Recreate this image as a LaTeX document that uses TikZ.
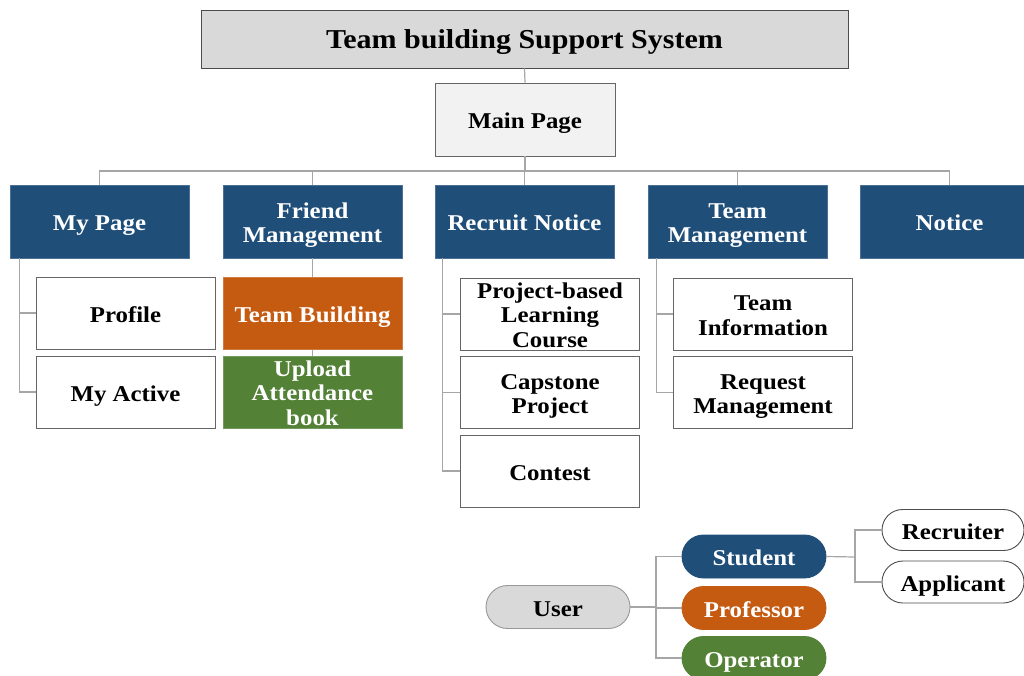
\documentclass[tikz,border=0pt]{standalone}
\usepackage{fontspec}
\setmainfont{Liberation Serif}[FakeStretch=1.1]
\definecolor{navy}{HTML}{1F4E79}
\definecolor{rust}{HTML}{C55A11}
\definecolor{leaf}{HTML}{538135}
\definecolor{lgray}{HTML}{D9D9D9}
\definecolor{vlgray}{HTML}{F2F2F2}
\definecolor{edge}{HTML}{7F7F7F}
\definecolor{wire}{HTML}{A6A6A6}
% fixed top and bottom of each text block, so lines sit like a word-processor line box
\newcommand{\topstrut}{\rule{0pt}{24pt}}
\newcommand{\botstrut}{\rule[-6pt]{0pt}{6pt}}
% three-line blocks need a lower top so they stay inside their boxes
\newcommand{\lowtopstrut}{\rule{0pt}{18pt}}
\tikzset{
  base/.style={draw=edge, line width=0.9pt, align=center, inner sep=0pt,
    font=\bfseries\fontsize{22.6}{24.5}\selectfont},
  titlebox/.style={base, fill=lgray, draw=black!70, minimum width=647pt, minimum height=58pt,
    font=\bfseries\fontsize{27.3}{30}\selectfont},
  mainbox/.style={base, fill=vlgray, draw=black!60, minimum width=180pt, minimum height=73pt},
  topbox/.style={base, fill=navy, draw=navy!80!white, text=white, minimum width=179pt, minimum height=73pt},
  subbox/.style={base, fill=white, draw=black!60, minimum width=179pt, minimum height=72pt},
  orangebox/.style={base, fill=rust, draw=rust!80!white, text=white, minimum width=179pt, minimum height=72pt},
  greenbox/.style={base, fill=leaf, draw=leaf!80!white, text=white, minimum width=179pt, minimum height=72pt},
  pill/.style={base, rounded corners=21.5pt, minimum width=144pt, minimum height=43pt},
  conn/.style={draw=wire, line width=1.2pt},
}
\begin{document}
\begin{tikzpicture}[x=1pt,y=-1pt]
\useasboundingbox (0,0) rectangle (1024,675);
\clip (0,0) rectangle (1024,675);

% header and main page
\node[titlebox] (title) at (524.5,39) {\rule{0pt}{25pt}Team building Support System\botstrut};
\node[mainbox] (main) at (525,119.5) {\topstrut Main Page\botstrut};

% first level menus
\node[topbox] (mypage)  at (99.5,221.5)  {\topstrut My Page\botstrut};
\node[topbox] (friend)  at (312.5,221.5) {\topstrut Friend\\Management\botstrut};
\node[topbox] (recruit) at (524.5,221.5) {\topstrut Recruit Notice\botstrut};
\node[topbox] (teammg)  at (737.5,221.5) {\topstrut Team\\Management\botstrut};
\node[topbox] (notice)  at (949.5,221.5) {\topstrut Notice\botstrut};

% second level
\node[subbox] (profile)  at (125.5,313) {\topstrut Profile\botstrut};
\node[subbox] (myactive) at (125.5,392) {\topstrut My Active\botstrut};
\node[orangebox] (teambuild) at (312.5,313.5) {\topstrut Team Building\botstrut};
\node[greenbox] (upload) at (312.5,392) {\lowtopstrut Upload\\Attendance\\book};
\node[subbox] (pbl)      at (550,314) {\lowtopstrut Project-based\\Learning\\Course};
\node[subbox] (capstone) at (550,392.5) {\topstrut Capstone\\Project\botstrut};
\node[subbox] (contest)  at (550,471) {\topstrut Contest\botstrut};
\node[subbox] (teaminfo) at (763,314) {\topstrut Team\\Information\botstrut};
\node[subbox] (request)  at (763,392.5) {\topstrut Request\\Management\botstrut};

% user roles
\node[pill, fill=lgray, draw=lgray!70!black] (user) at (558,607) {\topstrut User\botstrut};
\node[pill, fill=navy, draw=navy, text=white] (student) at (754,556.5) {\topstrut Student\botstrut};
\node[pill, fill=rust, draw=rust, text=white] (professor) at (754,608) {\topstrut Professor\botstrut};
\node[pill, fill=leaf, draw=leaf, text=white] (operator) at (754,658) {\topstrut Operator\botstrut};
\node[pill, fill=white, draw=black!70, minimum width=142pt, minimum height=41pt, rounded corners=20.5pt] (recruiter) at (953,530) {\topstrut Recruiter\botstrut};
\node[pill, fill=white, draw=black!70, minimum width=142pt, minimum height=42pt, rounded corners=21pt] (applicant) at (953,582) {\topstrut Applicant\botstrut};

% tree connectors
\coordinate (bus) at (525,171);
\draw[conn] (title.south) -- (main.north);
\draw[conn] (main.south) -- (bus);
\foreach \n in {mypage,friend,recruit,teammg,notice}
  \draw[conn] (\n.north) |- (bus);

\foreach \n in {profile,myactive}
  \draw[conn] ([xshift=10pt]mypage.south west) |- (\n.west);
\draw[conn] (friend.south) -- (teambuild.north);
\draw[conn] (teambuild.south) -- (upload.north);
\foreach \n in {pbl,capstone,contest}
  \draw[conn] ([xshift=8pt]recruit.south west) |- (\n.west);
\foreach \n in {teaminfo,request}
  \draw[conn] ([xshift=9pt]teammg.south west) |- (\n.west);

% role connectors
\coordinate (uj) at (656,607);
\draw[conn] (user.east) -- (uj);
\foreach \n in {student,professor,operator}
  \draw[conn] (uj) |- (\n.west);
\coordinate (sj) at (855,557);
\draw[conn] (student.east) -- (sj);
\foreach \n in {recruiter,applicant}
  \draw[conn] (sj) |- (\n.west);
\end{tikzpicture}
\end{document}
